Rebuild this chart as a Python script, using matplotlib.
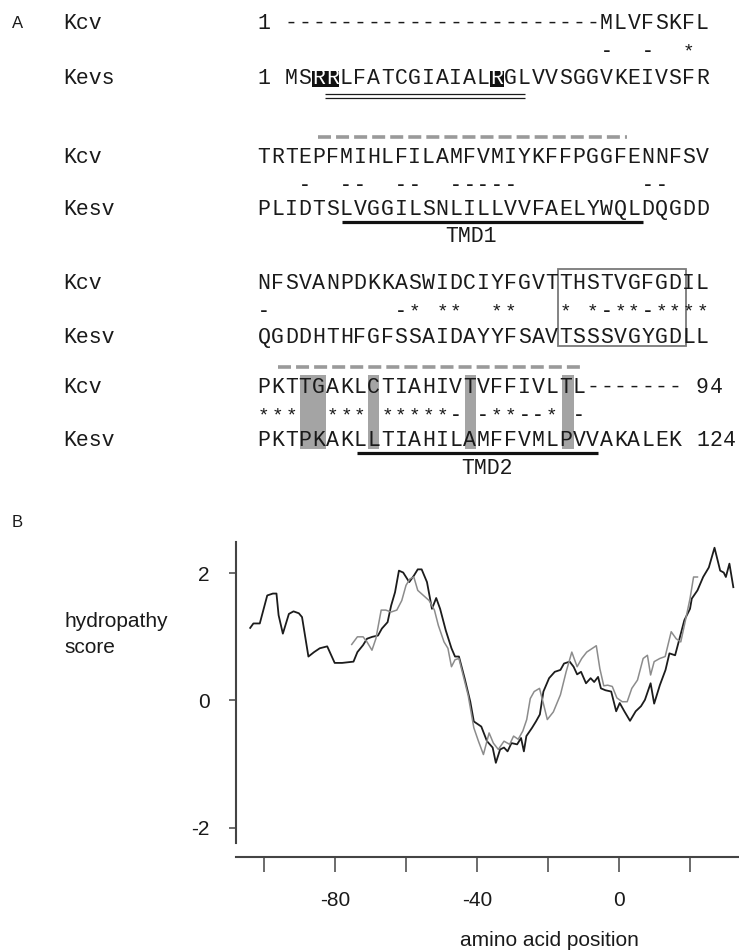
import matplotlib
matplotlib.use("Agg")
import matplotlib.pyplot as plt
from matplotlib.patches import Rectangle

W, H = 739, 952

# ---------------- data: panel A (alignment) ----------------
top_names = ["Kcv", "Kcv", "Kcv", "Kcv"]
bottom_names = ["Kevs", "Kesv", "Kesv", "Kesv"]
kcv_rows = ["1 -----------------------MLVFSKFL",
            "TRTEPFMIHLFILAMFVMIYKFFPGGFENNFSV",
            "NFSVANPDKKASWIDCIYFGVTTHSTVGFGDIL",
            "PKTTGAKLCTIAHIVTVFFIVLTL------- 94"]
kesv_rows = ["1 MSRRLFATCGIAIALRGLVVSGGVKEIVSFR",
             "PLIDTSLVGGILSNLILLVVFAELYWQLDQGDD",
             "QGDDHTHFGFSSAIDAYYFSAVTSSSVGYGDLL",
             "PKTPKAKLLTIAHILAMFFVMLPVVAKALEK 124"]
cons_rows = ["                         -  -  *",
             "   -  --  --  -----         --",
             "-         -* **  **   * *-**-****",
             "***  *** *****- -**--* -"]
tmd_labels = ["TMD1", "TMD2"]

# ---------------- data: panel B (hydropathy) ----------------
black_x = [-103.9, -103.0, -101.2, -99.1, -97.5, -96.5, -95.9, -94.7, -93.0, -91.7,
           -90.2, -89.3, -87.5, -85.9, -84.3, -82.2, -80.1, -78.0, -74.8, -73.7,
           -72.1, -71.0, -69.5, -67.9, -66.8, -65.2, -64.2, -63.1, -62.0, -60.8,
           -59.1, -57.8, -56.7, -55.6, -54.1, -52.7, -51.5, -50.4, -48.8, -47.2,
           -46.2, -45.1, -43.5, -41.9, -40.9, -38.8, -37.2, -35.6, -34.7, -33.5,
           -32.4, -31.4, -30.3, -28.7, -27.6, -26.8, -26.1, -24.5, -23.4, -22.3,
           -21.3, -19.7, -18.1, -16.5, -15.5, -13.9, -12.8, -11.8, -10.7, -9.3,
           -8.0, -7.0, -5.9, -5.1, -3.8, -2.2, -0.8, 0.2, 1.5, 3.1,
           4.7, 6.2, 7.3, 8.9, 9.9, 11.5, 13.1, 14.2, 15.8, 16.8,
           18.4, 20.0, 20.5, 22.1, 23.7, 25.3, 26.9, 28.5, 29.5, 30.1,
           31.1, 32.2]
black_y = [1.14, 1.21, 1.21, 1.65, 1.68, 1.68, 1.34, 1.05, 1.36, 1.40,
           1.37, 1.31, 0.69, 0.76, 0.82, 0.85, 0.59, 0.59, 0.61, 0.76,
           0.87, 0.97, 1.00, 1.02, 1.13, 1.23, 1.49, 1.70, 2.04, 2.01,
           1.86, 1.96, 2.06, 2.06, 1.86, 1.44, 1.61, 1.44, 1.10, 0.82,
           0.69, 0.69, 0.35, -0.02, -0.33, -0.41, -0.64, -0.74, -0.98, -0.77,
           -0.74, -0.80, -0.67, -0.69, -0.59, -0.80, -0.56, -0.43, -0.33, -0.22,
           0.14, 0.35, 0.45, 0.48, 0.58, 0.61, 0.53, 0.41, 0.45, 0.27,
           0.35, 0.29, 0.37, 0.19, 0.16, 0.14, -0.17, -0.04, -0.17, -0.32,
           -0.17, -0.09, 0.01, 0.27, -0.05, 0.24, 0.48, 0.74, 0.71, 0.92,
           1.26, 1.44, 1.60, 1.73, 1.94, 2.09, 2.40, 2.04, 2.01, 1.94,
           2.15, 1.78]
gray_x = [-75.3, -73.7, -72.1, -71.0, -69.6, -68.5, -67.0, -65.7, -64.2, -62.6,
          -61.2, -60.0, -58.9, -57.8, -56.7, -55.1, -53.5, -52.0, -50.9, -49.3,
          -48.2, -47.2, -46.2, -45.1, -42.5, -40.9, -39.6, -38.2, -36.6, -35.4,
          -34.0, -32.4, -30.8, -29.7, -28.4, -27.1, -26.0, -25.0, -23.9, -22.4,
          -21.3, -20.2, -18.5, -16.5, -14.9, -13.3, -11.8, -10.5, -9.1, -6.4,
          -5.4, -4.3, -3.2, -1.9, -0.6, 0.9, 2.3, 3.6, 5.2, 6.8,
          8.0, 8.9, 9.9, 11.5, 13.0, 14.7, 16.1, 17.4, 18.6, 20.0,
          21.0, 22.1]
gray_y = [0.88, 1.00, 1.00, 0.92, 0.79, 0.97, 1.42, 1.42, 1.39, 1.42,
          1.57, 1.81, 1.91, 1.94, 1.73, 1.65, 1.57, 1.42, 1.18, 0.92,
          0.82, 0.53, 0.64, 0.66, 0.08, -0.43, -0.64, -0.85, -0.51, -0.67,
          -0.77, -0.64, -0.69, -0.56, -0.61, -0.48, -0.30, 0.03, 0.14, 0.19,
          -0.05, -0.30, -0.18, 0.09, 0.45, 0.76, 0.53, 0.66, 0.76, 0.86,
          0.50, 0.23, 0.24, 0.22, 0.04, -0.02, -0.02, 0.19, 0.32, 0.66,
          0.71, 0.40, 0.61, 0.66, 0.69, 1.08, 0.97, 0.92, 1.23, 1.60,
          1.94, 1.94]
x_ticks = [-100, -80, -60, -40, -20, 0, 20]
x_ticklabels = ["", "-80", "", "-40", "", "0", ""]
y_ticks = [-2, 0, 2]
y_ticklabels = ["-2", "0", "2"]

# ---------------- layout / style ----------------
TXT = "#1a1a1a"
MONO = "Liberation Mono"
SANS = "Liberation Sans"
FS_MONO = 15.5
FS_CONS = 14
X0, P = 264.0, 13.7          # centre of first character, character pitch (px)
CAP_OFF = 6.0                # cap-centre -> baseline
STAR_OFF = 9.0               # star-centre -> baseline

def cx(i):
    return X0 + P * i

fig = plt.figure(figsize=(W / 100, H / 100), dpi=100)
A = fig.add_axes([0, 0, 1, 1])
A.set_xlim(0, W)
A.set_ylim(H, 0)
A.axis("off")

kcv_y = [23, 157, 283, 387]
cons_y = [47, 181, 307, 411]
kesv_y = [78, 209, 337, 440]


def put_row(s, yc, off, fs=FS_MONO, cons=False, color=TXT, z=5):
    for i, ch in enumerate(s):
        if ch == " ":
            continue
        w = "bold" if (cons and ch == "-") else "normal"
        A.text(cx(i), yc + off, ch, ha="center", va="baseline", family=MONO,
               fontsize=fs, color=color, fontweight=w, zorder=z)


# black highlight boxes (row 1, Kevs)
for (i0, i1) in [(4, 5), (17, 17)]:
    A.add_patch(Rectangle((cx(i0) - P / 2, 71), (i1 - i0 + 1) * P, 16,
                          facecolor="#111111", edgecolor="none", zorder=3))

# gray vertical bars (row 4)
for (ic, wpx) in [(3.55, 26), (8.0, 11), (15.05, 11), (22.2, 12)]:
    A.add_patch(Rectangle((cx(ic) - wpx / 2, 375), wpx, 74,
                          facecolor="#a4a4a4", edgecolor="none", zorder=2))

# box (row 3)
A.add_patch(Rectangle((558, 269), 128, 77, facecolor="none",
                      edgecolor="#7a7a7a", lw=1.3, zorder=4))

for r in range(4):
    A.text(63, kcv_y[r] + CAP_OFF, top_names[r], ha="left", va="baseline",
           family=MONO, fontsize=FS_MONO, color=TXT)
    A.text(63, kesv_y[r] + CAP_OFF, bottom_names[r], ha="left", va="baseline",
           family=MONO, fontsize=FS_MONO, color=TXT)
    put_row(kcv_rows[r], kcv_y[r], CAP_OFF)
    put_row(cons_rows[r], cons_y[r], STAR_OFF, fs=FS_CONS, cons=True)
    if r == 0:
        for i, ch in enumerate(kesv_rows[r]):
            if ch == " ":
                continue
            col = "white" if i in (4, 5, 17) else TXT
            A.text(cx(i), kesv_y[r] + CAP_OFF, ch, ha="center", va="baseline",
                   family=MONO, fontsize=FS_MONO, color=col, zorder=5)
    else:
        put_row(kesv_rows[r], kesv_y[r], CAP_OFF)

# double underline (row 1)
for yy in (94, 97.5):
    A.plot([325, 525], [yy, yy], color=TXT, lw=0.9, solid_capstyle="butt")
# TMD underlines and labels
A.plot([342, 643], [222, 222], color="#111111", lw=2.3, solid_capstyle="butt")
A.plot([357, 598], [453, 453], color="#111111", lw=2.3, solid_capstyle="butt")
A.text(471, 236 + CAP_OFF, tmd_labels[0], ha="center", va="baseline",
       family=MONO, fontsize=FS_MONO, color=TXT)
A.text(487, 468 + CAP_OFF, tmd_labels[1], ha="center", va="baseline",
       family=MONO, fontsize=FS_MONO, color=TXT)
# gray dashed lines
for (x0, x1, yy) in [(318, 627, 137), (278, 580, 367)]:
    A.plot([x0, x1], [yy, yy], color="#9a9a9a", lw=2.6,
           dashes=(3.6, 1.4), solid_capstyle="butt", dash_capstyle="butt")

# panel letters
A.text(12, 28, "A", ha="left", va="baseline", family=SANS, fontsize=12, color=TXT)
A.text(12, 527, "B", ha="left", va="baseline", family=SANS, fontsize=12, color=TXT)

# ---------------- panel B ----------------
ax = fig.add_axes([236 / W, 1 - 843 / H, (739 - 236) / W, (843 - 542) / H])
ax.patch.set_alpha(0)
ax.set_xlim(-107.9, 33.8)
ax.set_ylim(-2.24, 2.49)
ax.plot(black_x, black_y, color="#1c1c1c", lw=1.3, zorder=3)
ax.plot(gray_x, gray_y, color="#8c8c8c", lw=1.1, zorder=4)

SP = "#444444"
for s in ("top", "right"):
    ax.spines[s].set_visible(False)
ax.spines["left"].set_color(SP)
ax.spines["left"].set_linewidth(1.5)
ax.spines["bottom"].set_color(SP)
ax.spines["bottom"].set_linewidth(1.5)
ax.spines["bottom"].set_position(("outward", 10.1))
ax.set_xticks(x_ticks)
ax.set_xticklabels(x_ticklabels)
ax.set_yticks(y_ticks)
ax.set_yticklabels(y_ticklabels)
ax.tick_params(axis="x", direction="out", length=10.8, width=1.1, color=SP,
               pad=13.5, labelsize=15, labelcolor=TXT)
ax.tick_params(axis="y", direction="out", length=5, width=1.1, color=SP,
               pad=14, labelsize=15, labelcolor=TXT)
for lab in ax.get_xticklabels() + ax.get_yticklabels():
    lab.set_family(SANS)

t1 = A.text(168, 627, "hydropathy", ha="right", va="baseline", family=SANS,
            fontsize=15, color=TXT)
fig.canvas.draw()
bb = t1.get_window_extent()
A.text(bb.x0, 653, "score", ha="left", va="baseline", family=SANS,
       fontsize=15, color=TXT)
A.text(549, 946, "amino acid position", ha="center", va="baseline", family=SANS,
       fontsize=15, color=TXT)

fig.savefig("out.png", dpi=100)
